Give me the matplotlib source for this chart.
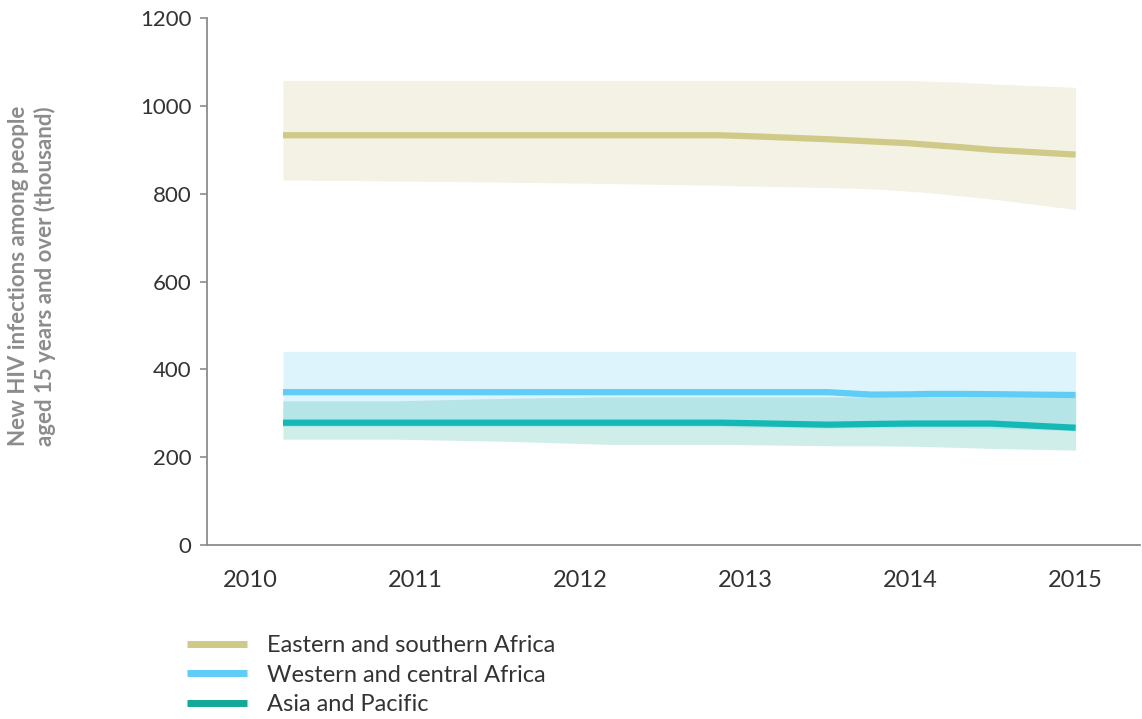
import matplotlib.pyplot as plt
import numpy as np

# data (thousands)
years = np.array([2010.20, 2010.87, 2011.58, 2012.18, 2012.84, 2012.93, 2013.09,
                  2013.50, 2013.76, 2013.98, 2014.12, 2014.30, 2014.49, 2015.00])

esa = np.array([933, 933, 933, 933, 933, 932, 930, 924, 919, 915, 911, 906, 900, 889])
esa_hi = np.array([1058, 1058, 1058, 1058, 1058, 1058, 1058, 1058, 1058, 1058, 1056, 1054, 1050, 1042])
esa_lo = np.array([831, 829, 826, 823, 819, 818, 817, 814, 811, 806, 802, 795, 788, 764])

wca = np.array([348, 348, 348, 348, 348, 348, 348, 348, 342.5, 343, 344, 344, 343.5, 341.5])
wca_hi = np.array([441, 441, 441, 441, 441, 441, 441, 441, 441, 441, 441, 441, 441, 441])
wca_lo = np.array([270, 270, 270, 270, 270, 269, 268, 266, 267, 267, 267, 267, 266, 260])

asp = np.array([278.5, 278.5, 278.5, 278.5, 278.5, 278, 277, 274, 275.5, 276.5, 276.5, 276.5, 276.5, 267])
asp_hi = np.array([328, 328, 334, 337, 337, 337, 337, 337, 337, 337, 337, 337, 337, 336])
asp_lo = np.array([241, 241, 236, 229, 229, 229, 228, 226, 226, 225, 224, 222, 220, 216])

labels = ['Eastern and southern Africa', 'Western and central Africa', 'Asia and Pacific']
line_colors = ['#cfca88', '#5fcdf5', '#14b8b5']
legend_colors = ['#cfca88', '#5fcdf5', '#14a898']
band_colors = ['#f4f2e5', '#ddf4fc', '#cfeeea']
overlap_color = '#b5e5e6'

xtick_years = [2010, 2011, 2012, 2013, 2014, 2015]
yticks = [0, 200, 400, 600, 800, 1000, 1200]

fig = plt.figure(figsize=(11.42, 7.19), dpi=100)
ax = fig.add_axes([207 / 1142, 1 - 545 / 719, 933 / 1142, 527 / 719])

# uncertainty bands
ax.fill_between(years, esa_lo, esa_hi, color=band_colors[0], lw=0)
ax.fill_between(years, wca_lo, wca_hi, color=band_colors[1], lw=0)
ax.fill_between(years, asp_lo, asp_hi, color=band_colors[2], lw=0)
ax.fill_between(years, np.maximum(wca_lo, asp_lo), np.minimum(wca_hi, asp_hi),
                color=overlap_color, lw=0)

# estimates
lw = 4.5
ax.plot(years, esa, color=line_colors[0], lw=lw, solid_capstyle='butt')
ax.plot(years, wca, color=line_colors[1], lw=lw, solid_capstyle='butt')
ax.plot(years, asp, color=line_colors[2], lw=lw, solid_capstyle='butt')

ax.set_xlim(2009.74, 2015.39)
ax.set_ylim(0, 1200)

for s in ['top', 'right']:
    ax.spines[s].set_visible(False)
for s in ['left', 'bottom']:
    ax.spines[s].set_color('#8c8c8c')
    ax.spines[s].set_linewidth(1.3)

ax.set_yticks(yticks)
ax.set_yticklabels([str(v) for v in yticks], fontsize=16, color='#333333',
                   family='Lato')
ax.tick_params(axis='y', length=5, width=1.2, color='#8c8c8c', pad=6)

ax.set_xticks(xtick_years)
ax.set_xticklabels([str(v) for v in xtick_years], fontsize=17, color='#333333',
                   family='Lato')
ax.tick_params(axis='x', length=0, pad=18)

fig.text(32 / 1142, 1 - 276 / 719,
         'New HIV infections among people\naged 15 years and over (thousand)',
         rotation=90, ha='center', va='center', fontsize=16, color='#8c8c8c',
         linespacing=1.25, family='Lato', weight='bold')

handles = [plt.Line2D([], [], color=c, lw=5, solid_capstyle='butt') for c in legend_colors]
fig.legend(handles, labels, loc='upper left', bbox_to_anchor=(187 / 1142, 1 - 635 / 719),
           frameon=False, prop={'family': 'Lato', 'size': 17},
           handlelength=2.55, handletextpad=0.85, labelspacing=0.37,
           borderpad=0, borderaxespad=0, labelcolor='#333333')

fig.savefig('out.png', dpi=100, facecolor='white')
